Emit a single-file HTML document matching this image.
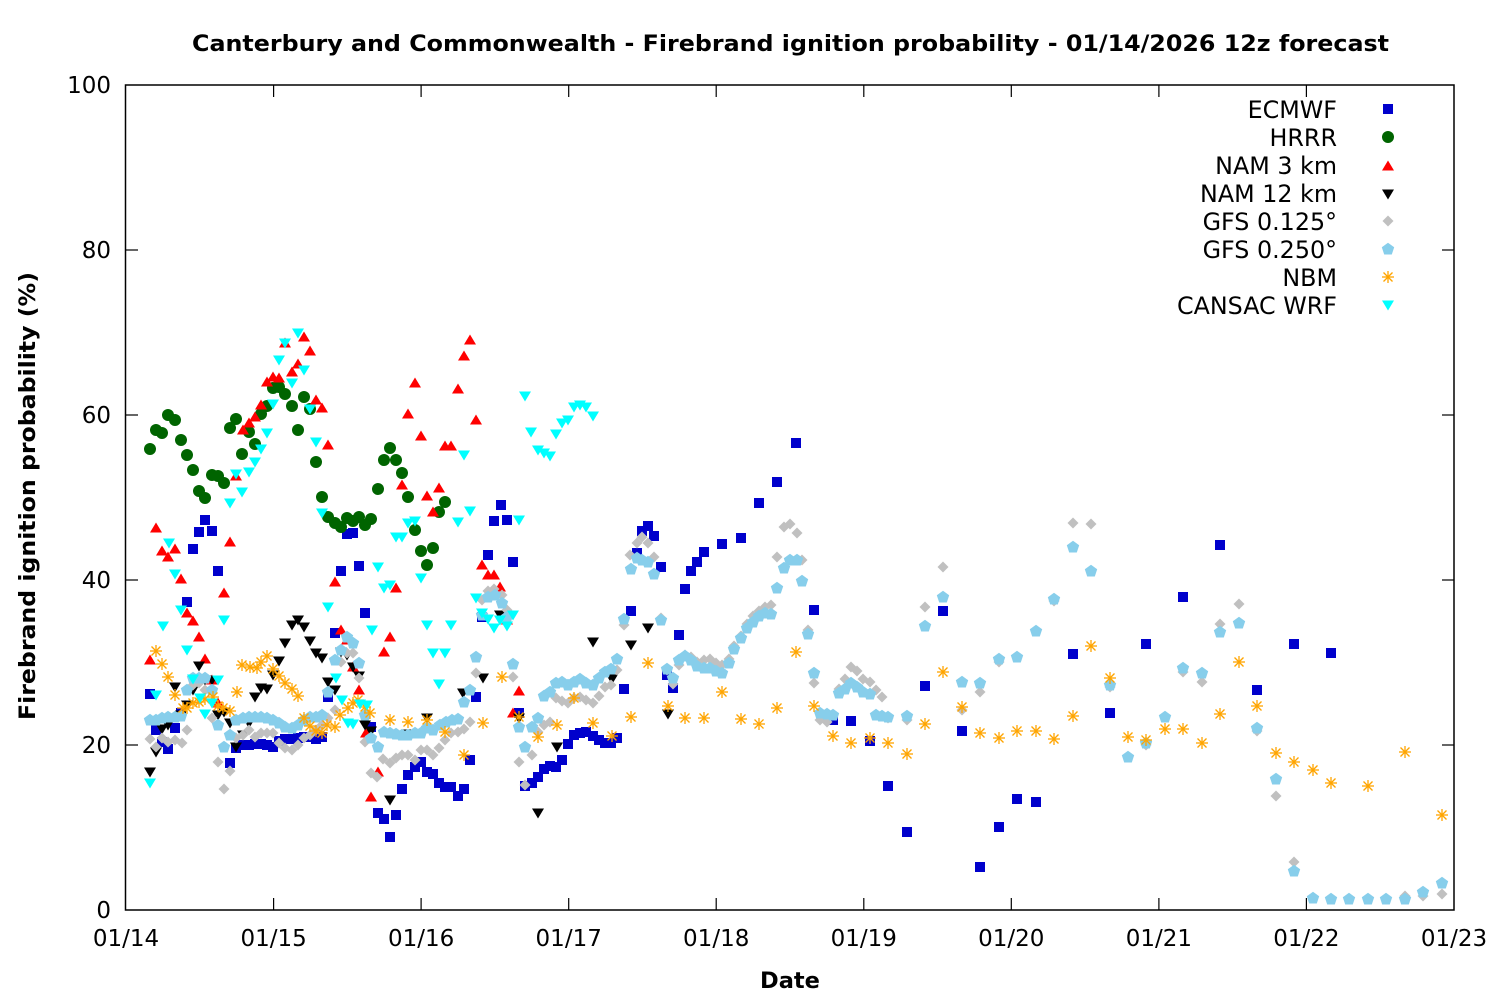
<!DOCTYPE html>
<html><head><meta charset="utf-8"><style>
html,body{margin:0;padding:0;background:#fff;}
svg{display:block;}
.s{fill:none;stroke:none;}
text{font-family:"DejaVu Sans","Liberation Sans",sans-serif;fill:#000;}
</style></head><body>
<svg width="1500" height="1000" viewBox="0 0 1500 1000" xmlns="http://www.w3.org/2000/svg">
<defs>
<marker id="mSq" markerWidth="14" markerHeight="14" refX="7" refY="7" markerUnits="userSpaceOnUse" overflow="visible"><rect x="2" y="2" width="10" height="10" fill="#0000cc"/></marker>
<marker id="mCi" markerWidth="14" markerHeight="14" refX="7" refY="7" markerUnits="userSpaceOnUse" overflow="visible"><circle cx="7" cy="7" r="6" fill="#006400"/></marker>
<marker id="mUp" markerWidth="14" markerHeight="14" refX="7" refY="7" markerUnits="userSpaceOnUse" overflow="visible"><polygon points="7,1.5 13,11.5 1,11.5" fill="#ff0000"/></marker>
<marker id="mDnK" markerWidth="14" markerHeight="14" refX="7" refY="7" markerUnits="userSpaceOnUse" overflow="visible"><polygon points="1,2.5 13,2.5 7,12.5" fill="#000000"/></marker>
<marker id="mDi" markerWidth="14" markerHeight="14" refX="7" refY="7" markerUnits="userSpaceOnUse" overflow="visible"><polygon points="7,1.5 12.5,7 7,12.5 1.5,7" fill="#c0c0c0"/></marker>
<marker id="mPe" markerWidth="14" markerHeight="14" refX="7" refY="7" markerUnits="userSpaceOnUse" overflow="visible"><polygon points="7,0.8 13.2,5.2 10.8,12.5 3.2,12.5 0.8,5.2" fill="#87ceeb"/></marker>
<marker id="mAs" markerWidth="14" markerHeight="14" refX="7" refY="7" markerUnits="userSpaceOnUse" overflow="visible"><g stroke="#ffa500" stroke-width="1.3"><line x1="1" y1="7" x2="13" y2="7"/><line x1="7" y1="1" x2="7" y2="13"/><line x1="2.5" y1="2.5" x2="11.5" y2="11.5"/><line x1="2.5" y1="11.5" x2="11.5" y2="2.5"/></g></marker>
<marker id="mDnC" markerWidth="14" markerHeight="14" refX="7" refY="7" markerUnits="userSpaceOnUse" overflow="visible"><polygon points="1,2.5 13,2.5 7,12.5" fill="#00ffff"/></marker>
</defs>

<rect x="0" y="0" width="1500" height="1000" fill="#fff"/>

<!-- ECMWF -->
<polyline class="s" marker-start="url(#mSq)" marker-mid="url(#mSq)" marker-end="url(#mSq)" points="150,694 156,730 162,742 168,749 175,728 181,713 187,602 193,549 199,532 205,520 212,531 218,571 230,763 236,748 243,745 249,745 255,744 261,744 267,745 273,747 279,741 285,739 292,739 298,738 304,737 310,737 316,739 322,737 328,697 335,633 341,571 347,534 353,533 359,566 365,613 371,727 378,813 384,819 390,837 396,815 402,789 408,775 415,767 421,762 427,772 433,774 439,783 445,787 451,787 458,796 464,789 470,760 476,697 482,617 488,555 494,521 501,505 507,520 513,562 519,713 525,786 532,783 538,777 544,769 550,766 556,767 562,760 568,744 574,735 580,733 586,732 593,736 599,740 605,743 611,743 617,738 624,689 631,611 637,553 642,531 648,526 654,536 661,567 667,675 673,688 679,635 685,589 691,571 697,562 704,552 722,544 741,538 759,503 777,482 796,443 814,610 833,720 851,721 870,741 888,786 907,832 925,686 943,611 962,731 980,867 999,827 1017,799 1036,802 1073,654 1110,713 1146,644 1183,597 1220,545 1257,690 1294,644 1331,653"/>

<!-- HRRR -->
<polyline class="s" marker-start="url(#mCi)" marker-mid="url(#mCi)" marker-end="url(#mCi)" points="150,449 156,430 162,433 168,415 175,420 181,440 187,455 193,470 199,491 205,498 212,475 218,476 224,483 230,428 236,419 242,454 249,432 255,444 261,414 267,406 273,388 279,387 285,394 292,406 298,430 304,397 310,409 316,462 322,497 328,517 335,523 341,527 347,518 353,521 359,517 365,525 371,519 378,489 384,460 390,448 396,460 402,473 408,497 415,530 421,551 427,565 433,548 439,512 445,502"/>

<!-- NAM 3 km -->
<polyline class="s" marker-start="url(#mUp)" marker-mid="url(#mUp)" marker-end="url(#mUp)" points="150,660 156,528 162,551 168,557 175,549 181,579 187,613 193,621 199,637 205,659 212,680 218,703 224,593 230,542 236,476 243,430 249,423 255,417 261,405 267,382 273,377 279,378 285,343 292,372 298,364 304,337 310,351 316,400 322,408 328,445 335,582 341,630 347,640 353,667 359,690 366,733 371,797 378,772 384,652 390,637 396,588 402,485 408,414 415,383 421,436 427,496 433,512 439,488 445,446 451,446 458,389 464,356 470,340 476,420 482,565 488,575 494,575 500,587 507,620 513,713 519,691"/>

<!-- NAM 12 km -->
<polyline class="s" marker-start="url(#mDnK)" marker-mid="url(#mDnK)" marker-end="url(#mDnK)" points="150,772 156,752 162,729 168,725 175,687 181,715 187,705 193,690 199,666 205,680 212,680 218,715 224,712 230,723 236,747 243,735 249,723 255,697 261,688 267,689 273,675 279,661 285,643 292,625 298,620 304,627 310,641 316,653 322,658 328,682 335,690 341,652 347,655 353,667 359,676 365,725 371,731 390,800 409,734 427,718 463,693 483,678 500,615 519,718 538,813 557,747 593,642 612,679 631,645 648,628 668,714"/>

<!-- GFS 0.125 -->
<polyline class="s" marker-start="url(#mDi)" marker-mid="url(#mDi)" marker-end="url(#mDi)" points="150,739 156,747 162,738 168,742 175,740 182,743 187,730 193,685 199,683 205,690 212,718 218,762 224,789 230,771 236,738 243,735 249,730 255,737 261,733 267,733 273,733 279,743 285,748 292,750 298,745 304,738 310,735 316,730 322,725 328,718 335,710 341,662 347,653 353,653 359,678 365,742 371,773 377,777 383,759 390,763 396,758 402,755 408,755 415,760 421,750 427,750 433,755 439,748 445,740 451,733 458,732 464,729 470,722 476,673 482,600 488,591 494,589 502,595 507,610 513,677 519,762 525,785 532,755 538,732 544,725 550,722 556,698 562,701 568,703 574,698 580,697 586,700 593,703 599,696 605,687 611,685 617,670 624,625 630,555 637,543 642,537 648,543 654,557 661,618 667,670 673,684 679,665 685,655 691,657 697,662 704,660 710,659 716,663 722,665 729,659 734,646 741,636 747,624 753,616 759,611 765,607 771,605 777,557 784,527 790,524 797,533 802,560 808,630 814,683 820,720 827,722 833,715 839,689 845,679 851,667 857,671 863,679 870,682 876,690 882,697 888,718 907,720 925,607 943,567 962,710 980,692 999,662 1017,657 1036,631 1054,601 1073,523 1091,524 1110,687 1128,757 1146,745 1165,717 1183,672 1202,682 1220,624 1239,604 1257,731 1276,796 1294,862 1313,898 1331,899 1349,899 1368,899 1386,899 1405,896 1423,896 1442,894"/>

<!-- GFS 0.250 -->
<polyline class="s" marker-start="url(#mPe)" marker-mid="url(#mPe)" marker-end="url(#mPe)" points="150,720 156,720 162,718 168,717 175,717 181,716 187,690 193,678 199,678 205,678 212,690 218,725 224,747 230,735 236,720 243,718 249,717 255,717 261,717 267,718 273,720 279,723 285,727 292,728 298,725 304,720 310,717 316,717 322,715 328,692 335,660 341,650 347,637 353,643 359,663 365,715 371,738 378,747 384,732 390,733 396,734 402,735 408,735 415,733 421,733 427,728 433,730 440,725 446,722 452,720 458,719 464,702 470,690 476,657 482,615 488,597 495,595 502,603 507,617 513,664 519,727 525,747 532,727 538,718 544,696 550,692 556,683 562,682 568,685 574,682 580,679 586,683 593,685 599,678 605,672 611,669 617,659 624,619 631,569 637,558 642,560 648,562 654,574 661,620 667,669 673,678 679,660 685,656 691,660 697,666 704,668 710,668 716,671 722,673 729,663 734,649 741,638 747,628 753,622 759,616 765,613 771,614 777,588 784,568 790,560 797,560 802,581 808,634 814,673 820,713 827,714 833,715 839,693 845,689 851,683 857,687 863,692 870,694 876,715 882,716 888,717 907,716 925,626 943,597 962,682 980,683 999,659 1017,657 1036,631 1054,599 1073,547 1091,571 1110,685 1128,757 1146,743 1165,717 1183,668 1202,673 1220,632 1239,623 1257,728 1276,779 1294,871 1313,898 1331,899 1349,899 1368,899 1386,899 1405,899 1423,892 1442,883"/>

<!-- NBM -->
<polyline class="s" marker-start="url(#mAs)" marker-mid="url(#mAs)" marker-end="url(#mAs)" points="156,651 162,664 168,677 175,695 183,708 187,708 193,703 199,702 205,699 213,697 218,706 223,708 230,711 237,692 242,665 250,667 257,668 261,662 267,656 273,669 279,676 285,683 292,689 298,696 304,718 310,726 316,731 322,733 327,725 335,727 340,715 348,708 353,703 358,700 365,707 370,713 390,720 408,722 427,720 445,732 464,755 483,723 502,677 519,717 538,737 557,725 574,698 593,723 612,736 631,717 648,663 668,706 685,718 704,718 722,692 741,719 759,724 777,708 796,652 814,706 833,736 851,743 870,738 888,743 907,754 925,724 943,672 962,707 980,733 999,738 1017,731 1036,731 1054,739 1073,716 1091,646 1110,678 1128,737 1146,740 1165,729 1183,729 1202,743 1220,714 1239,662 1257,706 1276,753 1294,762 1313,770 1331,783 1368,786 1405,752 1442,815"/>

<!-- CANSAC WRF -->
<polyline class="s" marker-start="url(#mDnC)" marker-mid="url(#mDnC)" marker-end="url(#mDnC)" points="150,783 156,695 163,626 169,543 175,574 181,610 187,650 193,679 200,698 205,714 212,703 218,680 224,620 230,503 236,474 242,492 249,472 255,462 261,449 267,433 273,404 279,360 285,343 292,383 298,333 304,370 310,409 316,442 322,513 328,607 336,678 342,700 348,723 353,724 360,704 367,705 372,630 378,567 384,588 390,585 396,537 402,537 408,523 415,521 421,578 427,625 433,653 439,684 445,653 451,625 458,522 464,455 470,511 476,598 482,613 488,619 494,628 500,620 507,626 513,615 519,520 525,396 531,432 538,450 544,453 550,456 556,434 562,423 568,420 574,407 580,405 586,407 593,416"/>

<!-- axes frame -->
<rect x="125.5" y="85" width="1328.5" height="825" fill="none" stroke="#000" stroke-width="1.5"/>
<g stroke="#000" stroke-width="1.2">
<line x1="126" y1="250" x2="138" y2="250"/><line x1="126" y1="415" x2="138" y2="415"/><line x1="126" y1="580" x2="138" y2="580"/><line x1="126" y1="745" x2="138" y2="745"/>
<line x1="1454" y1="250" x2="1442" y2="250"/><line x1="1454" y1="415" x2="1442" y2="415"/><line x1="1454" y1="580" x2="1442" y2="580"/><line x1="1454" y1="745" x2="1442" y2="745"/>
<line x1="273.6" y1="910" x2="273.6" y2="898"/><line x1="421.1" y1="910" x2="421.1" y2="898"/><line x1="568.7" y1="910" x2="568.7" y2="898"/><line x1="716.2" y1="910" x2="716.2" y2="898"/><line x1="863.8" y1="910" x2="863.8" y2="898"/><line x1="1011.3" y1="910" x2="1011.3" y2="898"/><line x1="1158.9" y1="910" x2="1158.9" y2="898"/><line x1="1306.4" y1="910" x2="1306.4" y2="898"/>
<line x1="273.6" y1="85" x2="273.6" y2="97"/><line x1="421.1" y1="85" x2="421.1" y2="97"/><line x1="568.7" y1="85" x2="568.7" y2="97"/><line x1="716.2" y1="85" x2="716.2" y2="97"/><line x1="863.8" y1="85" x2="863.8" y2="97"/><line x1="1011.3" y1="85" x2="1011.3" y2="97"/><line x1="1158.9" y1="85" x2="1158.9" y2="97"/><line x1="1306.4" y1="85" x2="1306.4" y2="97"/>
</g>

<!-- y tick labels -->
<g font-size="23" text-anchor="end">
<text x="111" y="93">100</text>
<text x="111" y="258">80</text>
<text x="111" y="423">60</text>
<text x="111" y="588">40</text>
<text x="111" y="753">20</text>
<text x="111" y="918">0</text>
</g>
<!-- x tick labels -->
<g font-size="23" text-anchor="middle">
<text x="126" y="946">01/14</text>
<text x="273.6" y="946">01/15</text>
<text x="421.1" y="946">01/16</text>
<text x="568.7" y="946">01/17</text>
<text x="716.2" y="946">01/18</text>
<text x="863.8" y="946">01/19</text>
<text x="1011.3" y="946">01/20</text>
<text x="1158.9" y="946">01/21</text>
<text x="1306.4" y="946">01/22</text>
<text x="1454" y="946">01/23</text>
</g>

<!-- titles -->
<text x="790.5" y="51" font-size="22.5" font-weight="bold" text-anchor="middle" textLength="1197" lengthAdjust="spacingAndGlyphs">Canterbury and Commonwealth - Firebrand ignition probability - 01/14/2026 12z forecast</text>
<text x="790" y="988" font-size="22.5" font-weight="bold" text-anchor="middle">Date</text>
<text transform="translate(35,496) rotate(-90)" font-size="22.5" font-weight="bold" text-anchor="middle" textLength="448" lengthAdjust="spacingAndGlyphs">Firebrand ignition probability (%)</text>

<!-- legend -->
<g font-size="23.8" text-anchor="end">
<text x="1337" y="118">ECMWF</text>
<text x="1337" y="146">HRRR</text>
<text x="1337" y="174">NAM 3 km</text>
<text x="1337" y="202">NAM 12 km</text>
<text x="1337" y="230">GFS 0.125°</text>
<text x="1337" y="258">GFS 0.250°</text>
<text x="1337" y="286">NBM</text>
<text x="1337" y="314">CANSAC WRF</text>
</g>
<rect x="1383" y="104" width="10" height="10" fill="#0000cc"/>
<circle cx="1388" cy="137" r="6" fill="#006400"/>
<polygon points="1388,160.5 1394,170.5 1382,170.5" fill="#ff0000"/>
<polygon points="1382,189.5 1394,189.5 1388,199.5" fill="#000000"/>
<polygon points="1388,215.5 1393.5,221 1388,226.5 1382.5,221" fill="#c0c0c0"/>
<polygon points="1388,242.8 1394.2,247.2 1391.8,254.5 1384.2,254.5 1381.8,247.2" fill="#87ceeb"/>
<g stroke="#ffa500" stroke-width="1.3"><line x1="1382" y1="277" x2="1394" y2="277"/><line x1="1388" y1="271" x2="1388" y2="283"/><line x1="1383.5" y1="272.5" x2="1392.5" y2="281.5"/><line x1="1383.5" y1="281.5" x2="1392.5" y2="272.5"/></g>
<polygon points="1382,300.5 1394,300.5 1388,310.5" fill="#00ffff"/>
</svg>
</body></html>
